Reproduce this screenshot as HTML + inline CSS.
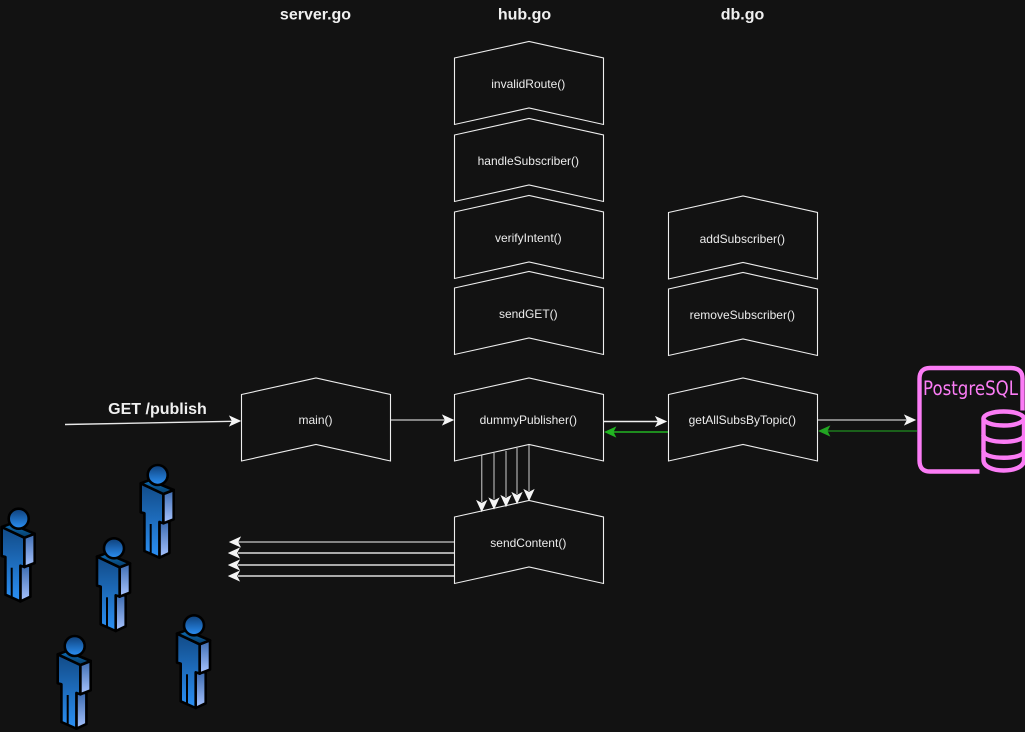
<!DOCTYPE html>
<html><head><meta charset="utf-8"><style>
html,body{margin:0;padding:0;background:#121212;width:1025px;height:732px;overflow:hidden}
svg{display:block}
.l{font:12px "Liberation Sans",sans-serif;fill:#ececec;text-anchor:middle;dominant-baseline:central}
.h{font:bold 16px "Liberation Sans",sans-serif;fill:#f0f0f0;text-anchor:middle;dominant-baseline:central}
</style></head><body>
<svg width="1025" height="732" viewBox="0 0 1025 732" xmlns="http://www.w3.org/2000/svg">
<defs>
<path id="box" d="M0 16.5 L74.5 0 L149 16.5 V83 L74.5 66.5 L0 83 Z" fill="#121212" stroke="#eeeeee" stroke-width="1.1"/>
<path id="ar" d="M-1 0 L-11 -4.6 L-8.6 0 L-11 4.6 Z" fill="#f5f5f5" stroke="#f5f5f5" stroke-width="1"/>
<linearGradient id="gF" x1="0" y1="0" x2="0" y2="1"><stop offset="0" stop-color="#114a86"/><stop offset="1" stop-color="#2b90f5"/></linearGradient>
<linearGradient id="gS" x1="0" y1="0" x2="0" y2="1"><stop offset="0" stop-color="#3c6bb0"/><stop offset="1" stop-color="#a8c4ff"/></linearGradient>
<linearGradient id="gT" x1="0" y1="0" x2="0" y2="1"><stop offset="0" stop-color="#0f6fb8"/><stop offset="1" stop-color="#053a66"/></linearGradient>
<linearGradient id="gH" x1="0" y1="0" x2="0" y2="1"><stop offset="0" stop-color="#0e3f78"/><stop offset="1" stop-color="#2b90f5"/></linearGradient>
<g id="p" stroke="#000" stroke-width="2.6" stroke-linejoin="round">
<path d="M1.7 47 L11.7 47 V78 L1.7 82.7 Z" fill="url(#gS)"/>
<path d="M-17 8.3 L5.7 19 V48.3 L1.7 47 V82.7 L-13.3 76 V38.3 L-17 37.3 Z" fill="url(#gF)"/>
<path d="M5.7 19 L16 15 V44.3 L5.7 48.3 Z" fill="url(#gS)"/>
<path d="M-17 8.3 L-8 5 L16 15 L5.7 19 Z" fill="url(#gT)"/>
<path d="M-7 49 V79" fill="none" stroke-width="2"/>
<circle cx="0" cy="0" r="10" fill="url(#gH)"/>
</g>
</defs>
<rect width="1025" height="732" fill="#121212"/>

<text class="h" x="315.5" y="15">server.go</text>
<text class="h" x="524.5" y="15">hub.go</text>
<text class="h" x="742.5" y="15">db.go</text>
<text class="h" x="157.5" y="409.5">GET /publish</text>

<!-- connectors -->
<g fill="none" stroke-width="1.4">
<path d="M65 424.5 L232 421.3" stroke="#e8e8e8"/>
<path d="M391 420 H446" stroke="#aaa"/>
<path d="M604 421.5 H659" stroke="#f0f0f0"/>
<path d="M668 432 H613" stroke="#22b522"/>
<path d="M818 420 H908" stroke="#aaa"/>
<path d="M917 431 H827" stroke="#1d7a1d"/>
<path d="M481.7 455 V502 M494 453 V499.5 M506 451 V497 M517 448 V494 M529 445 V491" stroke="#999"/>
<path d="M454 542 H238" stroke="#aaa"/>
<path d="M454 553 H238" stroke="#ddd"/>
<path d="M454 565 H238" stroke="#ddd"/>
<path d="M454 576 H238" stroke="#ddd"/>
</g>

<!-- boxes -->
<use href="#box" x="454.5" y="41.5"/>
<use href="#box" x="454.5" y="118.5"/>
<use href="#box" x="454.5" y="195.5"/>
<use href="#box" x="454.5" y="271.5"/>
<use href="#box" x="454.5" y="378"/>
<use href="#box" x="454.5" y="500.5"/>
<use href="#box" x="241.5" y="378"/>
<use href="#box" x="668.5" y="196"/>
<use href="#box" x="668.5" y="272.5"/>
<use href="#box" x="668.5" y="378"/>

<!-- arrowheads -->
<use href="#ar" transform="translate(241,421)"/>
<use href="#ar" transform="translate(454,420)"/>
<use href="#ar" transform="translate(667,421.5)"/>
<use href="#ar" transform="translate(916,420)"/>
<path d="M605 432 l10.5 -4.8 l-2.4 4.8 l2.4 4.8 Z" fill="#22b522" stroke="#22b522" stroke-width=".8"/>
<path d="M819 431 l10.5 -4.8 l-2.4 4.8 l2.4 4.8 Z" fill="#22a522" stroke="#22a522" stroke-width=".8"/>
<use href="#ar" transform="translate(481.7,512) rotate(90)"/>
<use href="#ar" transform="translate(494,509.5) rotate(90)"/>
<use href="#ar" transform="translate(506,507) rotate(90)"/>
<use href="#ar" transform="translate(517,504) rotate(90)"/>
<use href="#ar" transform="translate(529,501) rotate(90)"/>
<use href="#ar" transform="translate(229,542) rotate(180)"/>
<use href="#ar" transform="translate(228,553) rotate(180)"/>
<use href="#ar" transform="translate(228,565) rotate(180)"/>
<use href="#ar" transform="translate(228,576) rotate(180)"/>

<text class="l" x="528.3" y="84">invalidRoute()</text>
<text class="l" x="528.3" y="161">handleSubscriber()</text>
<text class="l" x="528.3" y="238">verifyIntent()</text>
<text class="l" x="528.3" y="314">sendGET()</text>
<text class="l" x="528.3" y="420">dummyPublisher()</text>
<text class="l" x="528.3" y="543">sendContent()</text>
<text class="l" x="315.5" y="420">main()</text>
<text class="l" x="742.3" y="239">addSubscriber()</text>
<text class="l" x="742.3" y="315">removeSubscriber()</text>
<text class="l" x="742.3" y="420">getAllSubsByTopic()</text>

<!-- people -->
<use href="#p" transform="translate(157.7,475)"/>
<use href="#p" transform="translate(18.7,518.7)"/>
<use href="#p" transform="translate(114,548.3)"/>
<use href="#p" transform="translate(74.7,646)"/>
<use href="#p" transform="translate(194,625.3)"/>

<!-- PostgreSQL -->
<g fill="none" stroke="#fb7cf5" stroke-width="4.4">
<path d="M1022.5 410.5 V379 Q1022.5 368 1011 368 H930 Q919.5 368 919.5 379 V460.5 Q919.5 471.5 930 471.5 H979.5"/>
<path d="M983.5 418.5 V460 C983.5 474 1024 474 1024 460 V418.5"/>
<ellipse cx="1003.7" cy="418.5" rx="20.2" ry="7"/>
<path d="M983.5 435 C983.5 444 1024 444 1024 435"/>
<path d="M983.5 451 C983.5 460 1024 460 1024 451"/>
</g>
<text x="923" y="395" font-family="'DejaVu Sans',sans-serif" font-size="19.5" fill="#fb7cf5" textLength="95" lengthAdjust="spacingAndGlyphs">PostgreSQL</text>
</svg>
</body></html>
